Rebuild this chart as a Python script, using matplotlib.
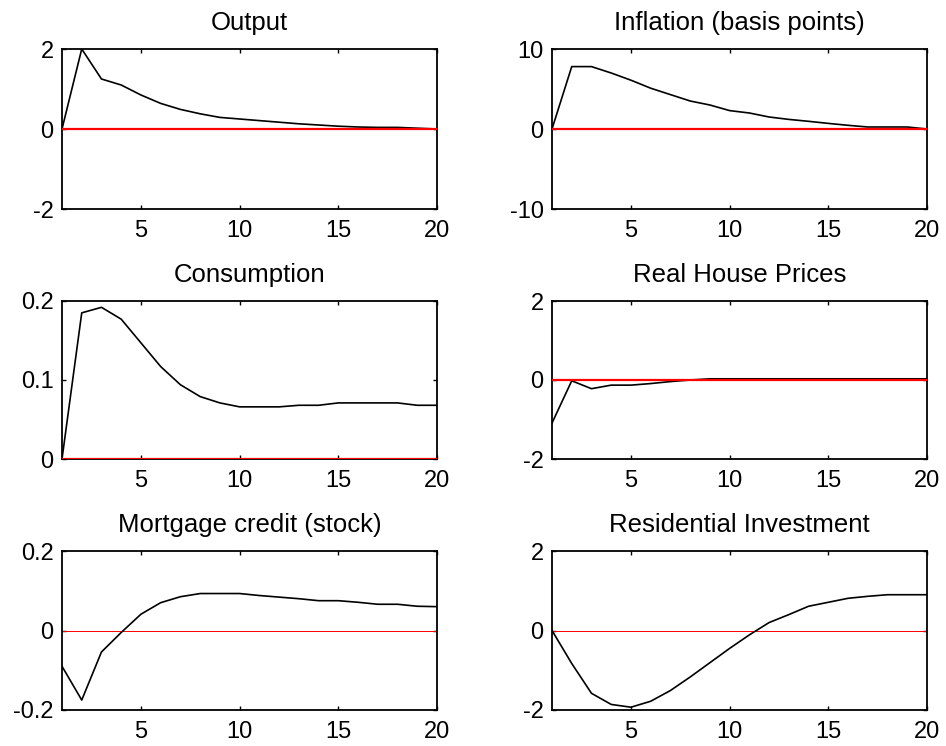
import matplotlib
matplotlib.use("Agg")
import matplotlib.pyplot as plt
import numpy as np

plt.rcParams['font.family'] = ['Liberation Sans', 'DejaVu Sans']

horizon = list(range(1, 21))

output = [0, 2.0, 1.25, 1.10, 0.85, 0.64, 0.49, 0.38, 0.29, 0.25, 0.21, 0.17, 0.13, 0.10, 0.07, 0.05, 0.04, 0.04, 0.02, 0.0]
inflation = [0, 7.8, 7.8, 7.0, 6.1, 5.1, 4.3, 3.5, 3.0, 2.3, 2.0, 1.5, 1.2, 0.96, 0.7, 0.46, 0.25, 0.25, 0.25, 0.0]
consumption = [0, 0.185, 0.192, 0.177, 0.147, 0.117, 0.094, 0.079, 0.071, 0.066, 0.066, 0.066, 0.068, 0.068, 0.071, 0.071, 0.071, 0.071, 0.068, 0.068]
house_prices = [-1.09, -0.02, -0.22, -0.13, -0.13, -0.09, -0.04, 0.0, 0.03, 0.03, 0.03, 0.03, 0.03, 0.03, 0.03, 0.03, 0.03, 0.03, 0.03, 0.03]
mortgage = [-0.09, -0.175, -0.054, -0.005, 0.041, 0.070, 0.085, 0.093, 0.093, 0.093, 0.088, 0.084, 0.080, 0.075, 0.075, 0.071, 0.066, 0.066, 0.061, 0.060]
res_inv = [0, -0.83, -1.58, -1.86, -1.93, -1.78, -1.51, -1.17, -0.81, -0.45, -0.11, 0.20, 0.40, 0.61, 0.71, 0.81, 0.86, 0.90, 0.90, 0.90]

titles = ["Output", "Inflation (basis points)", "Consumption", "Real House Prices",
          "Mortgage credit (stock)", "Residential Investment"]
series = [output, inflation, consumption, house_prices, mortgage, res_inv]
ylims = [(-2, 2), (-10, 10), (0, 0.2), (-2, 2), (-0.2, 0.2), (-2, 2)]
yticks = [[-2, 0, 2], [-10, 0, 10], [0, 0.1, 0.2], [-2, 0, 2], [-0.2, 0, 0.2], [-2, 0, 2]]
ytick_labels = [["-2", "0", "2"], ["-10", "0", "10"], ["0", "0.1", "0.2"], ["-2", "0", "2"],
                ["-0.2", "0", "0.2"], ["-2", "0", "2"]]
xticks = [5, 10, 15, 20]
zero_lw = [1.6, 1.6, 1.6, 1.6, 0.7, 0.7]

fig = plt.figure(figsize=(9.46, 7.46), dpi=100)
lefts = [62 / 946, 552 / 946]
width = 375 / 946
tops = [49, 301, 551]
heights = [160, 158, 159]

for i in range(6):
    r, c = divmod(i, 2)
    bottom = 1 - (tops[r] + heights[r]) / 746
    ax = fig.add_axes([lefts[c], bottom, width, heights[r] / 746])
    ax.plot(horizon, series[i], color='black', lw=1.2, zorder=3)
    ax.plot(horizon, [0] * len(horizon), color='red', lw=zero_lw[i], zorder=2 if i >= 4 else 4)
    ax.set_xlim(1, 20)
    ax.set_ylim(*ylims[i])
    ax.set_xticks(xticks)
    ax.set_yticks(yticks[i])
    ax.set_yticklabels(ytick_labels[i])
    ax.tick_params(direction='in', length=3, width=1, top=True, right=True, labelsize=17)
    ax.tick_params(axis='x', pad=8)
    ax.tick_params(axis='y', pad=6)
    for s in ax.spines.values():
        s.set_linewidth(1.3)
    ax.set_title(titles[i], fontsize=18.5, pad=14)

fig.savefig("out.png", dpi=100)
